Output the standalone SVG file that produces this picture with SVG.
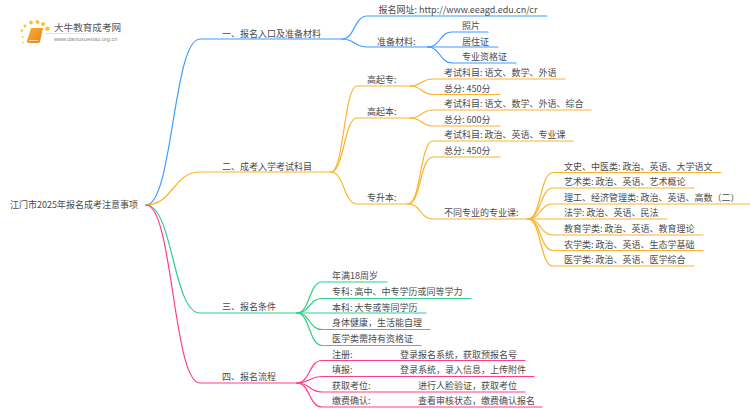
<svg xmlns="http://www.w3.org/2000/svg" width="750" height="410" viewBox="0 0 750 410">
<style>
text{font-family:"Noto Sans CJK SC","Noto Sans",sans-serif;font-size:9px;fill:#4a4a4a}
.c{fill:none;stroke-width:1.2;stroke-linecap:round}
.b{stroke:#3d9bff}.o{stroke:#fdb22e}.g{stroke:#30cf8c}.p{stroke:#ff3d8e}
.dot{fill:#fbbf3c}
</style>
<defs>
<linearGradient id="fade" x1="0" x2="1" y1="0" y2="0"><stop offset="0" stop-color="#ddd"/><stop offset="1" stop-color="#fff"/></linearGradient>
<linearGradient id="bk" x1="0" x2="1" y1="0" y2="1"><stop offset="0" stop-color="#fbb034"/><stop offset="1" stop-color="#ee7f1a"/></linearGradient>
</defs>
<g id="connectors">
<path class="c b" d="M146 205C173 205 173 39 200 39H342"/>
<path class="c b" d="M342 39C355 39 354 16 367 16H547"/>
<path class="c b" d="M342 39C355 39 354 47 367 47H428"/>
<path class="c b" d="M428 47C440 47 440 32 452 32H488"/>
<path class="c b" d="M428 47H498"/>
<path class="c b" d="M428 47C440 47 440 63 452 63H516"/>
<path class="c o" d="M146 205C173 205 173 172 200 172H331"/>
<path class="c o" d="M331 172C344 172 344 86 357 86H410"/>
<path class="c o" d="M331 172C344 172 344 118 357 118H410"/>
<path class="c o" d="M331 172C344 172 344 204 357 204H408"/>
<path class="c o" d="M410 86C422 86 421 79 433 79H565"/>
<path class="c o" d="M410 86C422 86 421 94.500 433 94.500H500"/>
<path class="c o" d="M410 118C422 118 421 110 433 110H591"/>
<path class="c o" d="M410 118C422 118 421 126 433 126H500"/>
<path class="c o" d="M408 204C421 204 420 141 433 141H573"/>
<path class="c o" d="M408 204C421 204 420 157 433 157H500"/>
<path class="c o" d="M408 204C421 204 420 219 433 219H528"/>
<path class="c o" d="M528 219C541 219 540 172.500 553 172.500H721"/>
<path class="c o" d="M528 219C541 219 540 188 553 188H694"/>
<path class="c o" d="M528 219C541 219 540 204 553 204H750"/>
<path class="c o" d="M528 219C541 219 540 219 553 219H667"/>
<path class="c o" d="M528 219C541 219 540 235 553 235H703"/>
<path class="c o" d="M528 219C541 219 540 250.500 553 250.500H703"/>
<path class="c o" d="M528 219C541 219 540 266 553 266H694"/>
<path class="c g" d="M146 205C173 205 173 313 200 313H297"/>
<path class="c g" d="M297 313C310 313 309 282 322 282H387"/>
<path class="c g" d="M297 313C310 313 309 298.500 322 298.500H471"/>
<path class="c g" d="M297 313H426"/>
<path class="c g" d="M297 313C310 313 309 329.500 322 329.500H430"/>
<path class="c g" d="M297 313C310 313 309 345.500 322 345.500H421"/>
<path class="c p" d="M146 205C173 205 173 383 200 383H297"/>
<path class="c p" d="M297 383C310 383 309 360.500 322 360.500H525"/>
<path class="c p" d="M297 383C310 383 309 376.500 322 376.500H534"/>
<path class="c p" d="M297 383C310 383 309 392 322 392H525"/>
<path class="c p" d="M297 383C310 383 309 407 322 407H542"/>
</g>
<g id="logo">
<circle class="dot" cx="22" cy="30.500" r="1.300"/><circle class="dot" cx="22.500" cy="37" r="0.900"/><circle class="dot" cx="23" cy="42.500" r="0.800"/>
<circle class="dot" cx="25" cy="26" r="1.500"/><circle class="dot" cx="31" cy="22.500" r="1.900"/><circle class="dot" cx="37.500" cy="22" r="2"/><circle class="dot" cx="43" cy="24" r="2.100"/><circle class="dot" cx="47.500" cy="28.700" r="2.200"/>
<path d="M31 28H43L40 41.500Q39.500 43 38 43H28.500Q26.500 43 27 41Z" fill="url(#bk)"/>
<path d="M29 40.500H38.500" stroke="#fde3b0" stroke-width="0.900" fill="none"/>
<rect x="46" y="33" width="88" height="1" fill="url(#fade)"/>
<text x="54" y="31" style="font-size:9.600px;fill:#555">大牛教育成考网</text>
<text x="54" y="41" style="font-size:5.600px;fill:#888;font-family:'Liberation Sans',sans-serif">www.daniuxuexiao.org.cn</text>
</g>
<g id="root"><text x="10" y="208">江门市2025年报名成考注意事项</text></g>
<g id="b1"><text x="222" y="36.500">一、报名入口及准备材料</text></g>
<g id="b1-1"><text x="378.500" y="13">报名网址: http://www.eeagd.edu.cn/cr</text></g>
<g id="b1-2"><text x="377" y="44.500">准备材料:</text></g>
<g id="b1-2-1"><text x="462" y="29">照片</text></g>
<g id="b1-2-2"><text x="462" y="44.500">居住证</text></g>
<g id="b1-2-3"><text x="462" y="60">专业资格证</text></g>
<g id="b2"><text x="222" y="169.500">二、成考入学考试科目</text></g>
<g id="b2-1"><text x="367" y="83">高起专:</text></g>
<g id="b2-1-1"><text x="444" y="76">考试科目: 语文、数学、外语</text></g>
<g id="b2-1-2"><text x="444" y="91.500">总分: 450分</text></g>
<g id="b2-2"><text x="367" y="115">高起本:</text></g>
<g id="b2-2-1"><text x="444" y="107">考试科目: 语文、数学、外语、综合</text></g>
<g id="b2-2-2"><text x="444" y="123">总分: 600分</text></g>
<g id="b2-3"><text x="367" y="201">专升本:</text></g>
<g id="b2-3-1"><text x="444" y="138">考试科目: 政治、英语、专业课</text></g>
<g id="b2-3-2"><text x="444" y="154">总分: 450分</text></g>
<g id="b2-3-3"><text x="444" y="216">不同专业的专业课:</text></g>
<g id="m1"><text x="564" y="169.500">文史、中医类: 政治、英语、大学语文</text></g>
<g id="m2"><text x="564" y="185">艺术类: 政治、英语、艺术概论</text></g>
<g id="m3"><text x="564" y="201">理工、经济管理类: 政治、英语、高数（二）</text></g>
<g id="m4"><text x="564" y="216">法学: 政治、英语、民法</text></g>
<g id="m5"><text x="564" y="232">教育学类: 政治、英语、教育理论</text></g>
<g id="m6"><text x="564" y="247.500">农学类: 政治、英语、生态学基础</text></g>
<g id="m7"><text x="564" y="263">医学类: 政治、英语、医学综合</text></g>
<g id="b3"><text x="222" y="310">三、报名条件</text></g>
<g id="b3-1"><text x="332" y="279">年满18周岁</text></g>
<g id="b3-2"><text x="332" y="295">专科: 高中、中专学历或同等学力</text></g>
<g id="b3-3"><text x="332" y="310.500">本科: 大专或等同学历</text></g>
<g id="b3-4"><text x="332" y="326">身体健康，生活能自理</text></g>
<g id="b3-5"><text x="332" y="342">医学类需持有资格证</text></g>
<g id="b4"><text x="222" y="380">四、报名流程</text></g>
<g id="b4-1"><text x="332" y="357.500">注册:</text><text x="400" y="357.500">登录报名系统，获取预报名号</text></g>
<g id="b4-2"><text x="332" y="373">填报:</text><text x="400" y="373">登录系统，录入信息，上传附件</text></g>
<g id="b4-3"><text x="332" y="389">获取考位:</text><text x="418" y="389">进行人脸验证，获取考位</text></g>
<g id="b4-4"><text x="332" y="404">缴费确认:</text><text x="418" y="404">查看审核状态，缴费确认报名</text></g>
</svg>
